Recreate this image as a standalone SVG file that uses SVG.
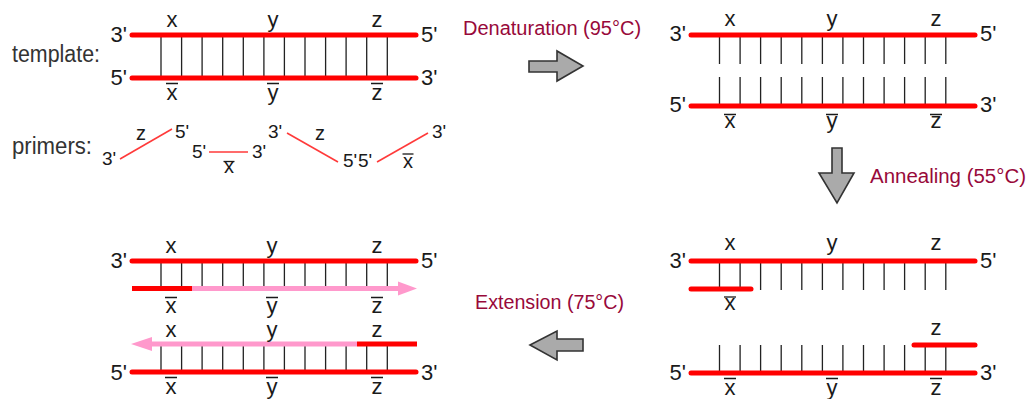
<svg xmlns="http://www.w3.org/2000/svg" width="1031" height="399" viewBox="0 0 1031 399">
<style>
text{font-family:"Liberation Sans",Arial,sans-serif;fill:#1a1a1a}
.end{font-size:22px}
.lab{font-size:22px;text-anchor:middle}
.pl{font-size:19px}
.pm{font-size:20px;text-anchor:middle}
.head{font-size:23.5px;fill:#333}
.step{font-size:20px;fill:#98093a}
.strand{stroke:#ff0000;stroke-width:5;stroke-linecap:round;fill:none}
.rung{stroke:#222;stroke-width:1.3;fill:none}
.bar{stroke:#1a1a1a;stroke-width:1.3}
.thin{stroke:#ff3a3a;stroke-width:1.6}
.pink{stroke:#ff99cc;stroke-width:5;fill:none}
.pinkhead{fill:#ff99cc}
.big{fill:#aaaaaa;stroke:#333;stroke-width:1.6;stroke-linejoin:miter}
</style>

<!-- template -->
<g id="template">
<text class="head" x="12" y="62" textLength="88" lengthAdjust="spacingAndGlyphs">template:</text>
<path class="rung" d="M161 35V78M181.6 35V78M202.1 35V78M222.7 35V78M243.3 35V78M263.9 35V78M284.4 35V78M305 35V78M325.6 35V78M346.1 35V78M366.7 35V78M387.3 35V78"/>
<line class="strand" x1="132" y1="35" x2="416" y2="35"/>
<line class="strand" x1="132" y1="78" x2="416" y2="78"/>
<text class="end" x="127" y="42" text-anchor="end">3'</text>
<text class="end" x="421" y="42">5'</text>
<text class="end" x="127" y="85" text-anchor="end">5'</text>
<text class="end" x="421" y="85">3'</text>
<text class="lab" x="172" y="27">x</text>
<text class="lab" x="273" y="27">y</text>
<text class="lab" x="377" y="27">z</text>
<text class="lab" x="172" y="100">x</text>
<text class="lab" x="273" y="100">y</text>
<text class="lab" x="377" y="100">z</text>
<path class="bar" d="M166 83.5H178M267 83.5H279M371 83.5H383"/>
</g>

<!-- primers -->
<g id="primers">
<text class="head" x="12" y="154" textLength="80" lengthAdjust="spacingAndGlyphs">primers:</text>
<g id="primer1">
<line class="thin" x1="120" y1="159" x2="172" y2="129"/>
<text class="pl" x="102" y="165">3'</text>
<text class="pm" x="141" y="140">z</text>
<text class="pl" x="175" y="138">5'</text>
</g>
<g id="primer2">
<line class="thin" x1="209" y1="152" x2="248" y2="152"/>
<text class="pl" x="192" y="158">5'</text>
<text class="pl" x="252" y="158">3'</text>
<text class="pm" x="229" y="173">x</text>
<path class="bar" d="M223.5 161.5H234.5"/>
</g>
<g id="primer3">
<line class="thin" x1="287" y1="133" x2="338" y2="162"/>
<text class="pl" x="268" y="138">3'</text>
<text class="pm" x="320" y="140">z</text>
<text class="pl" x="343" y="167">5'</text>
</g>
<g id="primer4">
<line class="thin" x1="377" y1="162" x2="428" y2="133"/>
<text class="pl" x="358" y="167">5'</text>
<text class="pm" x="408" y="168">x</text>
<path class="bar" d="M402.5 154H413.5"/>
<text class="pl" x="432" y="138">3'</text>
</g>
</g>

<!-- denatured -->
<g id="denatured">
<path class="rung" d="M719.5 35V64M740.1 35V64M760.6 35V64M781.2 35V64M801.8 35V64M822.4 35V64M842.9 35V64M863.5 35V64M884.1 35V64M904.6 35V64M925.2 35V64M945.8 35V64"/>
<path class="rung" d="M719.5 77V106M740.1 77V106M760.6 77V106M781.2 77V106M801.8 77V106M822.4 77V106M842.9 77V106M863.5 77V106M884.1 77V106M904.6 77V106M925.2 77V106M945.8 77V106"/>
<line class="strand" x1="691" y1="35" x2="975" y2="35"/>
<line class="strand" x1="691" y1="106" x2="975" y2="106"/>
<text class="end" x="686" y="41" text-anchor="end">3'</text>
<text class="end" x="980" y="41">5'</text>
<text class="end" x="686" y="112" text-anchor="end">5'</text>
<text class="end" x="980" y="112">3'</text>
<text class="lab" x="730" y="26">x</text>
<text class="lab" x="832" y="26">y</text>
<text class="lab" x="936" y="26">z</text>
<text class="lab" x="730" y="128">x</text>
<text class="lab" x="832" y="128">y</text>
<text class="lab" x="936" y="128">z</text>
<path class="bar" d="M724 114.5H736M826 114.5H838M930 114.5H942"/>
</g>

<!-- annealed -->
<g id="annealed">
<path class="rung" d="M719.5 261V290M740.1 261V290M760.6 261V290M781.2 261V290M801.8 261V290M822.4 261V290M842.9 261V290M863.5 261V290M884.1 261V290M904.6 261V290M925.2 261V290M945.8 261V290"/>
<path class="rung" d="M719.5 345V373M740.1 345V373M760.6 345V373M781.2 345V373M801.8 345V373M822.4 345V373M842.9 345V373M863.5 345V373M884.1 345V373M904.6 345V373M925.2 345V373M945.8 345V373"/>
<line class="strand" x1="691" y1="261" x2="975" y2="261"/>
<line class="strand" x1="691" y1="373" x2="975" y2="373"/>
<line class="strand" x1="691" y1="289" x2="751" y2="289"/>
<line class="strand" x1="914" y1="345" x2="975" y2="345"/>
<text class="end" x="686" y="268" text-anchor="end">3'</text>
<text class="end" x="980" y="268">5'</text>
<text class="end" x="686" y="380" text-anchor="end">5'</text>
<text class="end" x="980" y="380">3'</text>
<text class="lab" x="730" y="250">x</text>
<text class="lab" x="832" y="250">y</text>
<text class="lab" x="936" y="250">z</text>
<text class="lab" x="730" y="310">x</text>
<path class="bar" d="M724 297H736"/>
<text class="lab" x="936" y="335">z</text>
<text class="lab" x="730" y="395">x</text>
<text class="lab" x="832" y="395">y</text>
<text class="lab" x="936" y="395">z</text>
<path class="bar" d="M724 378.5H736M826 378.5H838M930 378.5H942"/>
</g>

<!-- extended -->
<g id="extended">
<path class="rung" d="M161 261V288M181.6 261V288M202.1 261V288M222.7 261V288M243.3 261V288M263.9 261V288M284.4 261V288M305 261V288M325.6 261V288M346.1 261V288M366.7 261V288M387.3 261V288"/>
<path class="rung" d="M161 344V372M181.6 344V372M202.1 344V372M222.7 344V372M243.3 344V372M263.9 344V372M284.4 344V372M305 344V372M325.6 344V372M346.1 344V372M366.7 344V372M387.3 344V372"/>
<line class="strand" x1="132" y1="261" x2="416" y2="261"/>
<line class="strand" x1="132" y1="372" x2="416" y2="372"/>
<line class="pink" x1="192" y1="288.5" x2="400" y2="288.5"/>
<polygon class="pinkhead" points="398,281.5 417,288.5 398,295.5"/>
<line class="strand" x1="132" y1="288.5" x2="192" y2="288.5" style="stroke-linecap:butt"/>
<line class="pink" x1="150" y1="344" x2="357" y2="344"/>
<polygon class="pinkhead" points="152,337 131,344 152,351"/>
<line class="strand" x1="357" y1="344" x2="417" y2="344" style="stroke-linecap:butt"/>
<text class="end" x="127" y="268" text-anchor="end">3'</text>
<text class="end" x="421" y="268">5'</text>
<text class="end" x="127" y="380" text-anchor="end">5'</text>
<text class="end" x="421" y="380">3'</text>
<text class="lab" x="171" y="253">x</text>
<text class="lab" x="272" y="253">y</text>
<text class="lab" x="377" y="253">z</text>
<text class="lab" x="171" y="313">x</text>
<text class="lab" x="272" y="313">y</text>
<text class="lab" x="377" y="313">z</text>
<path class="bar" d="M165 297.5H177M266 297.5H278M371 297.5H383"/>
<text class="lab" x="171" y="337">x</text>
<text class="lab" x="272" y="337">y</text>
<text class="lab" x="377" y="337">z</text>
<text class="lab" x="171" y="394">x</text>
<text class="lab" x="272" y="394">y</text>
<text class="lab" x="377" y="394">z</text>
<path class="bar" d="M165 377.5H177M266 377.5H278M371 377.5H383"/>
</g>

<!-- step arrows -->
<g id="connectors">
<g id="denaturation">
<text class="step" x="463" y="35">Denaturation (95°C)</text>
<polygon class="big" points="529,61 557,61 557,51 583,66 557,81 557,72 529,72"/>
</g>
<g id="annealing">
<text class="step" x="870" y="183" textLength="156" lengthAdjust="spacingAndGlyphs">Annealing (55°C)</text>
<polygon class="big" points="832,148 842,148 842,173 854,173 837,203 819,173 832,173"/>
</g>
<g id="extension">
<text class="step" x="475" y="309" textLength="149" lengthAdjust="spacingAndGlyphs">Extension (75°C)</text>
<polygon class="big" points="530,345 557,331 557,339 583,339 583,351 557,351 557,360"/>
</g>
</g>
</svg>
